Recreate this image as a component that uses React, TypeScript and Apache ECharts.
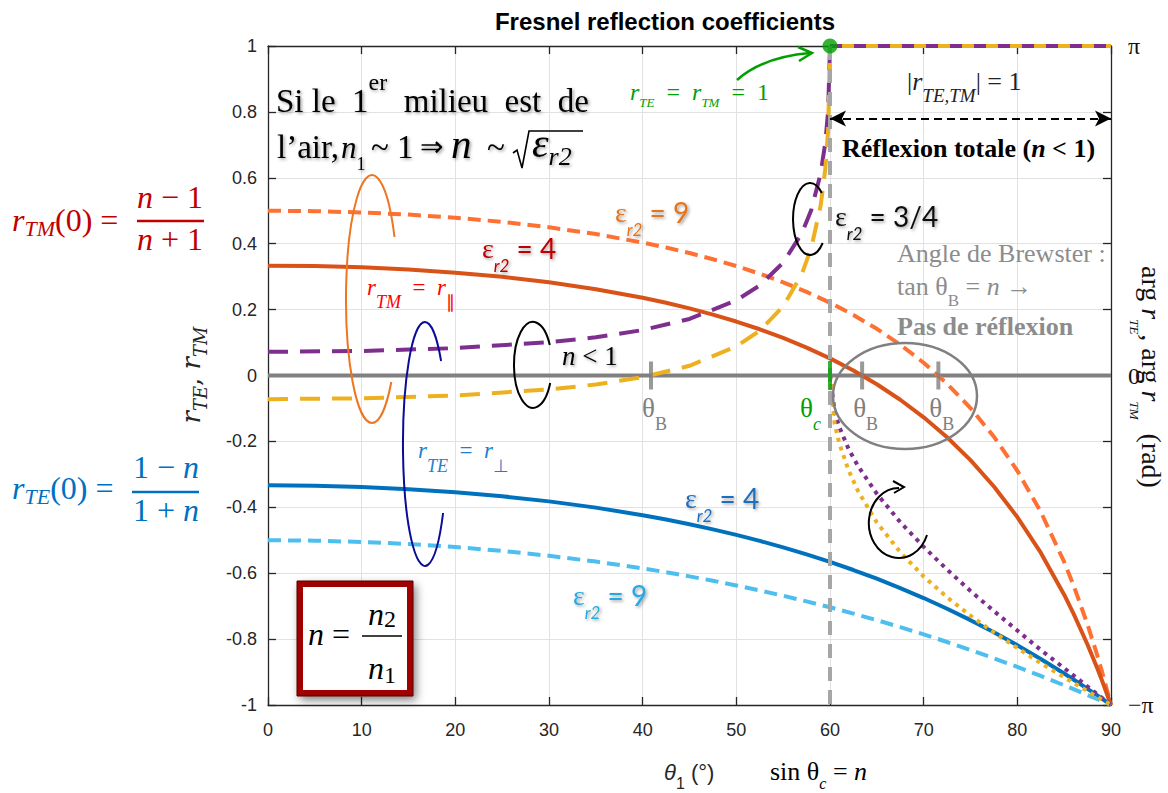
import React, { useEffect, useRef } from 'react';
import * as echarts from 'echarts';

// ---------- data ----------
// incidence angles (deg) for the εr2 = 4 and εr2 = 9 curves
const thetaA = [0, 5, 10, 15, 20, 25, 30, 35, 40, 42.5, 45, 47.5, 50, 52.5, 55, 57.5, 60, 62.5, 65, 67.5, 70, 72.5, 75, 77.5, 80, 82.5, 85, 86, 87.5, 88.5, 89, 90];
const rTM_eps4 = [0.3333, 0.3321, 0.3282, 0.3216, 0.3121, 0.2994, 0.2829, 0.262, 0.236, 0.2208, 0.2038, 0.1849, 0.1638, 0.1403, 0.1141, 0.0847, 0.0519, 0.015, -0.0266, -0.0736, -0.1268, -0.1875, -0.257, -0.3369, -0.4296, -0.5378, -0.6653, -0.7227, -0.817, -0.886, -0.9225, -1];
const rTE_eps4 = [-0.3333, -0.3346, -0.3384, -0.3449, -0.3542, -0.3665, -0.382, -0.401, -0.424, -0.4371, -0.4514, -0.4669, -0.4838, -0.502, -0.5216, -0.5429, -0.5657, -0.5903, -0.6168, -0.6451, -0.6754, -0.7079, -0.7425, -0.7794, -0.8186, -0.8602, -0.9043, -0.9226, -0.9509, -0.9702, -0.9801, -1];
const rTM_eps9 = [0.5, 0.4987, 0.4949, 0.4883, 0.4788, 0.4661, 0.4498, 0.4292, 0.4035, 0.3884, 0.3716, 0.3529, 0.3321, 0.3088, 0.2828, 0.2536, 0.2208, 0.1837, 0.1416, 0.0937, 0.0387, -0.0249, -0.0988, -0.1858, -0.2891, -0.4135, -0.5659, -0.6368, -0.7563, -0.8462, -0.8948, -1];
const rTE_eps9 = [-0.5, -0.5013, -0.5051, -0.5115, -0.5206, -0.5324, -0.5471, -0.5647, -0.5855, -0.5971, -0.6096, -0.623, -0.6372, -0.6523, -0.6684, -0.6855, -0.7035, -0.7225, -0.7425, -0.7636, -0.7856, -0.8088, -0.833, -0.8582, -0.8845, -0.9119, -0.9402, -0.9519, -0.9696, -0.9817, -0.9877, -1];
// εr2 = 3/4 (n < 1), below the critical angle
const thetaB = [0, 10, 20, 30, 35, 40, 45, 50, 52.5, 55, 57, 58, 59, 59.5, 59.8, 60];
const rTE_eps34 = [0.0718, 0.0744, 0.083, 0.101, 0.116, 0.1379, 0.1716, 0.2282, 0.2735, 0.3423, 0.4322, 0.5024, 0.6131, 0.7068, 0.8024, 1];
const rTM_eps34 = [-0.0718, -0.0692, -0.0606, -0.0425, -0.0273, -0.0051, 0.0294, 0.0882, 0.136, 0.2097, 0.3084, 0.3873, 0.5154, 0.6273, 0.745, 1];
// total reflection: |r| = 1
const thetaTIR = [60, 90];
const modTIR = [1, 1];
// phase (in units of π, right axis)
const thetaPh = [60, 60.5, 61, 62, 63, 65, 67.5, 70, 72.5, 75, 77.5, 80, 82.5, 85, 87.5, 90];
const argTE_eps34 = [0, -0.111, -0.157, -0.224, -0.275, -0.359, -0.445, -0.52, -0.589, -0.654, -0.715, -0.774, -0.833, -0.888, -0.944, -1];
const argTM_eps34 = [0, -0.147, -0.207, -0.289, -0.351, -0.446, -0.536, -0.61, -0.673, -0.729, -0.78, -0.827, -0.873, -0.916, -0.958, -1];
const brewsterAngles = [40.89, 63.43, 71.57];
const criticalAngle = 60;
const rightTickValues = [-1, 0, 1];
const rightTickLabels = ['−π', '0', 'π'];

// ---------- styling helpers ----------
const SERIF = '"Liberation Serif", "Times New Roman", serif';
const SANS = '"Liberation Sans", Arial, sans-serif';
const MATH = '"DejaVu Serif", serif';
const CAL = 'Lato, "Open Sans", sans-serif';
const SH = { textShadowColor: 'rgba(0,0,0,0.38)', textShadowBlur: 3, textShadowOffsetX: 1.5, textShadowOffsetY: 1.5 };

const X0 = 268, X1 = 1111;
const xPx = (v: number) => X0 + ((X1 - X0) * v) / 90;

function mt(x: number, base: number, F: number, segs: any[], o: any = {}) {
  const fam = o.fam || SERIF;
  const color = o.color || '#000';
  const rich: any = {};
  let text = '';
  segs.forEach((seg: any, i: number) => {
    const t = seg[0];
    const s = seg[1] || {};
    const size = s.size || F;
    const dy = (s.d || 0) + 0.34 * (F - size);
    const pad = dy >= 0 ? [2 * dy, 0, 0, 0] : [0, 0, -2 * dy, 0];
    rich['t' + i] = {
      fontSize: size,
      fontFamily: s.fam || fam,
      fontStyle: s.it ? 'italic' : 'normal',
      fontWeight: s.b || o.b ? 'bold' : 'normal',
      fill: s.color || color,
      lineHeight: Math.round(size * 1.2),
      verticalAlign: 'middle',
      padding: pad,
      ...(o.shadow ? SH : {}),
    };
    text += '{t' + i + '|' + t + '}';
  });
  return {
    type: 'text',
    x,
    y: base - 0.34 * F,
    z: 100,
    silent: true,
    style: { text, rich, align: o.align || 'left', verticalAlign: 'middle', fontSize: F, fontFamily: fam, fill: color },
  };
}
const hline = (x1: number, x2: number, y: number, color: string, w: number) => ({
  type: 'line', z: 100, silent: true, shape: { x1, y1: y, x2, y2: y }, style: { stroke: color, lineWidth: w },
});

const PATHS: Record<string, string> = {
  loopOrange: 'M394.5 237 A26 124 0 1 0 391.3 382',
  loopBlue: 'M441.1 361 A22 122 0 1 0 443.1 513',
  loopN: 'M549.8 345 A19 43 0 1 0 550.2 383',
  loopEps: 'M821.8 193 A17 36 0 1 0 822.7 243',
  arrowCurl: 'M927 535 A30 35 0 1 1 899 488',
  arrowGreen: 'M737 80 Q763 57 810 53',
};
function registerShapes() {
  Object.keys(PATHS).forEach((k) => {
    echarts.graphic.registerShape(k, (echarts.graphic as any).extendPath(PATHS[k], {}));
  });
}

const zip = (xs: number[], ys: number[]) => xs.map((x, i) => [x, ys[i]]);
function line(name: string, data: any[], color: string, width: number, type: any, extra: any = {}) {
  const { lineStyle: ls, ...rest } = extra;
  return {
    name, type: 'line', data, symbol: 'none', showSymbol: false, clip: false, silent: true,
    emphasis: { disabled: true },
    lineStyle: { color, width, type, cap: 'butt', join: 'round', ...(ls || {}) },
    ...rest,
  };
}

function buildOption() {
  const axisCol = '#262626';
  const G: any[] = [];

  // title
  G.push(mt(665, 30, 24, [['Fresnel reflection coefficients']], { fam: SANS, b: true, align: 'center' }));

  // top-left note
  G.push(mt(276, 112, 33, [['Si le  1'], ['er', { size: 24, d: -22 }], ['  milieu  est  de']], { shadow: true }));
  G.push(mt(277, 158, 33, [['l’air,']], { shadow: true }));
  G.push(mt(341, 158, 31, [['n', { it: true }], ['1', { size: 18, d: 12 }]], { shadow: true }));
  G.push(mt(371, 158, 33, [['~ 1']], { shadow: true }));
  G.push(mt(420, 156, 28, [['⇒']], { shadow: true }));
  G.push(mt(451, 158, 41, [['n', { it: true }]], { shadow: true }));
  G.push(mt(487, 158, 33, [['~']], { shadow: true }));
  G.push({ type: 'polyline', z: 100, silent: true, shape: { points: [[513, 153], [517, 150], [522, 168], [529, 131], [583, 131]] }, style: { stroke: '#000', lineWidth: 1.6, fill: 'none' } });
  G.push(mt(532, 157, 42, [['ε', { it: true }], ['r2', { it: true, size: 26, d: 8 }]], { shadow: true }));

  // left formulas
  G.push(mt(12, 231, 32, [['r', { it: true }], ['TM', { it: true, size: 22, d: 5 }], ['(0) =']], { color: '#C00000' }));
  G.push(mt(170, 208, 32, [['n', { it: true }], [' − 1']], { color: '#C00000', align: 'center' }));
  G.push(mt(170, 250, 32, [['n', { it: true }], [' + 1']], { color: '#C00000', align: 'center' }));
  G.push(hline(137, 204, 221, '#C00000', 2.5));
  G.push(mt(12, 499, 32, [['r', { it: true }], ['TE', { it: true, size: 22, d: 5 }], ['(0) =']], { color: '#0070C0' }));
  G.push(mt(166, 478, 32, [['1 − '], ['n', { it: true }]], { color: '#0070C0', align: 'center' }));
  G.push(mt(166, 521, 32, [['1 + '], ['n', { it: true }]], { color: '#0070C0', align: 'center' }));
  G.push(hline(132, 199, 492, '#0070C0', 2.5));

  // green annotation
  G.push(mt(630, 100, 24, [['r', { it: true }], ['TE', { it: true, size: 13, d: 7 }], ['\u2002=\u2002'], ['r', { it: true }], ['TM', { it: true, size: 13, d: 7 }], ['\u2002=\u20021']], { color: '#00A000' }));
  G.push({ type: 'arrowGreen', z: 100, silent: true, shape: {}, style: { fill: 'none', stroke: '#00A000', lineWidth: 2.5 } });
  G.push({ type: 'polyline', z: 100, silent: true, shape: { points: [[798, 47], [812, 53], [799, 61]] }, style: { stroke: '#00A000', lineWidth: 2.5, fill: 'none' } });

  // |r| = 1 and total reflection
  G.push(mt(907, 90, 26, [['|'], ['r', { it: true }], ['TE,TM', { it: true, size: 19, d: 12 }], ['| = 1']], { color: '#222' }));
  G.push(mt(842, 157, 26, [['Réflexion totale ('], ['n', { it: true }], [' < 1)']], { b: true }));

  // epsilon labels
  const eps = (x: number, base: number, color: string, val: string) =>
    mt(x, base, 28, [['ε', { fam: SERIF }], ['r2', { it: true, size: 17, d: 13, fam: CAL }], [' = ' + val, { fam: CAL }]], { color, shadow: true });
  G.push(eps(615, 222, '#E5751F', '9'));
  G.push(eps(482, 258, '#C00000', '4'));
  G.push(eps(835, 226, '#111111', '3/4'));
  G.push(eps(685, 508, '#1F6EBF', '4'));
  G.push(eps(573, 605, '#27A9E1', '9'));

  // r_TM = r_par, r_TE = r_perp
  G.push(mt(367, 295, 23, [['r', { it: true }], ['TM', { it: true, size: 18, d: 13 }], ['\u2002=\u2002'], ['r', { it: true }], ['∥', { size: 18, d: 13 }]], { color: '#FF0000' }));
  G.push(mt(418, 458, 23, [['r', { it: true }], ['TE', { it: true, size: 18, d: 14 }], ['\u2002=\u2002'], ['r', { it: true }], ['⊥', { size: 18, d: 14 }]], { color: '#1F7FCF' }));
  G.push(mt(562, 365, 27, [['n', { it: true }], [' < 1']], { shadow: true }));

  // loops and curled arrow
  G.push({ type: 'loopOrange', z: 100, silent: true, shape: {}, style: { fill: 'none', stroke: '#EE7621', lineWidth: 2 } });
  G.push({ type: 'loopBlue', z: 100, silent: true, shape: {}, style: { fill: 'none', stroke: '#0B0B96', lineWidth: 2 } });
  G.push({ type: 'loopN', z: 100, silent: true, shape: {}, style: { fill: 'none', stroke: '#000', lineWidth: 2 } });
  G.push({ type: 'loopEps', z: 100, silent: true, shape: {}, style: { fill: 'none', stroke: '#000', lineWidth: 2 } });
  G.push({ type: 'arrowCurl', z: 100, silent: true, shape: {}, style: { fill: 'none', stroke: '#000', lineWidth: 2 } });
  G.push({ type: 'polyline', z: 100, silent: true, shape: { points: [[893, 481], [904, 487], [894, 493]] }, style: { stroke: '#000', lineWidth: 2, fill: 'none' } });

  // theta labels
  brewsterAngles.forEach((a) => G.push(mt(xPx(a) - 9, 417, 27, [['θ'], ['B', { size: 18, d: 13 }]], { color: '#808080' })));
  G.push(mt(xPx(criticalAngle) - 30, 417, 27, [['θ'], ['c', { it: true, size: 18, d: 13 }]], { color: '#00A000' }));
  G.push({ type: 'ellipse', z: 100, silent: true, shape: { cx: 905, cy: 396, rx: 72, ry: 53 }, style: { fill: 'none', stroke: '#808080', lineWidth: 2.5 } });

  // Brewster text
  G.push(mt(897, 262, 26, [['Angle de Brewster :']], { color: '#8C8C8C' }));
  G.push(mt(897, 295, 26, [['tan θ'], ['B', { size: 17, d: 11 }], [' = '], ['n', { it: true }], [' →']], { color: '#8C8C8C' }));
  G.push(mt(897, 335, 26, [['Pas de réflexion']], { color: '#8C8C8C', b: true }));

  // n = n2/n1 box
  G.push({ type: 'rect', z: 99, silent: true, shape: { x: 300, y: 584, width: 110, height: 109 }, style: { fill: '#fff', stroke: '#A00000', lineWidth: 6, shadowBlur: 10, shadowColor: 'rgba(0,0,0,0.5)', shadowOffsetX: 3, shadowOffsetY: 4 } });
  G.push({ type: 'rect', z: 99, silent: true, shape: { x: 297, y: 581, width: 116, height: 115 }, style: { fill: 'none', stroke: '#5A0000', lineWidth: 1 } });
  G.push(mt(308, 645, 32, [['n', { it: true }], [' =']], {}));
  G.push(mt(382, 625, 32, [['n', { it: true }], ['2', { size: 24, d: 2 }]], { align: 'center' }));
  G.push(hline(362, 402, 636, '#000', 1.5));
  G.push(mt(382, 679, 32, [['n', { it: true }], ['1', { size: 24, d: 4 }]], { align: 'center' }));

  // axis names
  G.push(mt(664, 780, 22, [['θ', { it: true }], ['1', { size: 16, d: 9 }], [' (°)']], { fam: SANS, color: axisCol }));
  G.push(mt(770, 780, 26, [['sin θ'], ['c', { it: true, size: 16, d: 9 }], [' = '], ['n', { it: true }]], {}));
  G.push({ ...mt(0, 0, 26, [['r', { it: true }], ['TE', { it: true, size: 18, d: 7 }], [', '], ['r', { it: true }], ['TM', { it: true, size: 18, d: 7 }]], { fam: MATH, color: axisCol, align: 'center' }), x: 191, y: 375, rotation: Math.PI / 2 });
  G.push({ ...mt(0, 0, 28, [['arg '], ['r', { it: true }], ['TE', { it: true, size: 13, d: 11 }], [', arg '], ['r', { it: true }], ['TM', { it: true, size: 13, d: 11 }], ['  (rad)']], { color: '#111', align: 'center' }), x: 1151, y: 377, rotation: -Math.PI / 2 });

  const axLine = { show: true, onZero: false, lineStyle: { color: axisCol, width: 1.3 } };
  const axTick = { show: true, inside: true, length: 8, lineStyle: { color: axisCol, width: 1.3 } };
  const split = { show: true, lineStyle: { color: '#E2E2E2', width: 1 } };

  return {
    animation: false,
    backgroundColor: '#ffffff',
    grid: { left: X0, right: 1168 - X1, top: 46, bottom: 88, containLabel: false },
    xAxis: [
      { type: 'value', min: 0, max: 90, interval: 10, position: 'bottom', axisLine: axLine, axisTick: axTick, axisLabel: { color: axisCol, fontFamily: SANS, fontSize: 18, margin: 16 }, splitLine: split },
      { type: 'value', min: 0, max: 90, interval: 10, position: 'top', axisLine: axLine, axisTick: axTick, axisLabel: { show: false }, splitLine: { show: false } },
    ],
    yAxis: [
      { type: 'value', min: -1, max: 1, interval: 0.2, position: 'left', axisLine: axLine, axisTick: axTick, axisLabel: { color: axisCol, fontFamily: SANS, fontSize: 18, margin: 11 }, splitLine: split },
      {
        type: 'value', min: -1, max: 1, interval: 0.2, position: 'right', axisLine: axLine, axisTick: axTick, splitLine: { show: false },
        axisLabel: {
          color: '#111', fontFamily: SERIF, fontSize: 24, margin: 17, align: 'left',
          formatter: (v: number) => {
            const i = rightTickValues.findIndex((t) => Math.abs(t - v) < 1e-6);
            return i >= 0 ? rightTickLabels[i] : '';
          },
        },
      },
    ],
    series: [
      line('zero', [[0, 0], [90, 0]], '#808080', 4, 'solid', { z: 1 }),
      line('TM9', zip(thetaA, rTM_eps9), '#FF7033', 4, [13, 7]),
      line('TM4', zip(thetaA, rTM_eps4), '#D95319', 4, 'solid'),
      line('TE4', zip(thetaA, rTE_eps4), '#0072BD', 4, 'solid'),
      line('TE9', zip(thetaA, rTE_eps9), '#4DBEEE', 4, [13, 7]),
      line('TE34', zip(thetaB, rTE_eps34), '#7E2F8E', 4, [20, 12]),
      line('TM34', zip(thetaB, rTM_eps34), '#EDB120', 4, [20, 12]),
      line('TIR_TE', zip(thetaTIR, modTIR), '#7E2F8E', 4, [12, 12], {
        markLine: {
          silent: true, symbol: ['arrow', 'arrow'], symbolSize: [12, 16],
          lineStyle: { color: '#000', width: 2, type: [8, 5] }, label: { show: false },
          data: [[{ coord: [criticalAngle, 0.78] }, { coord: [90, 0.78] }]],
        },
      }),
      line('TIR_TM', zip(thetaTIR, modTIR), '#EDB120', 4, [12, 12], { lineStyle: { dashOffset: 12 } }),
      line('argTE', zip(thetaPh, argTE_eps34), '#7E2F8E', 4, [4, 5]),
      line('argTM', zip(thetaPh, argTM_eps34), '#EDB120', 4, [4, 5]),
      line('crit', [[criticalAngle, 1], [criticalAngle, -1]], '#A6A6A6', 4, [14, 9]),
      { type: 'scatter', silent: true, clip: false, data: brewsterAngles.map((a) => [a, 0]), symbol: 'rect', symbolSize: [4, 28], itemStyle: { color: '#808080' }, z: 5 },
      { type: 'scatter', silent: true, clip: false, data: [[criticalAngle, 0]], symbol: 'rect', symbolSize: [4, 29], itemStyle: { color: '#00A000' }, z: 6 },
      { type: 'scatter', silent: true, clip: false, data: [[criticalAngle, 1]], symbol: 'circle', symbolSize: 15, itemStyle: { color: '#00A000' }, z: 7 },
    ],
    graphic: G,
  };
}

export default function App() {
  const ref = useRef<HTMLDivElement>(null);
  useEffect(() => {
    if (!ref.current) return;
    registerShapes();
    const chart = echarts.init(ref.current, null, { renderer: 'svg', width: 1168, height: 793 });
    chart.setOption(buildOption() as any);
    return () => chart.dispose();
  }, []);
  return <div ref={ref} style={{ position: 'fixed', left: 0, top: 0, width: 1168, height: 793, background: '#fff' }} />;
}
